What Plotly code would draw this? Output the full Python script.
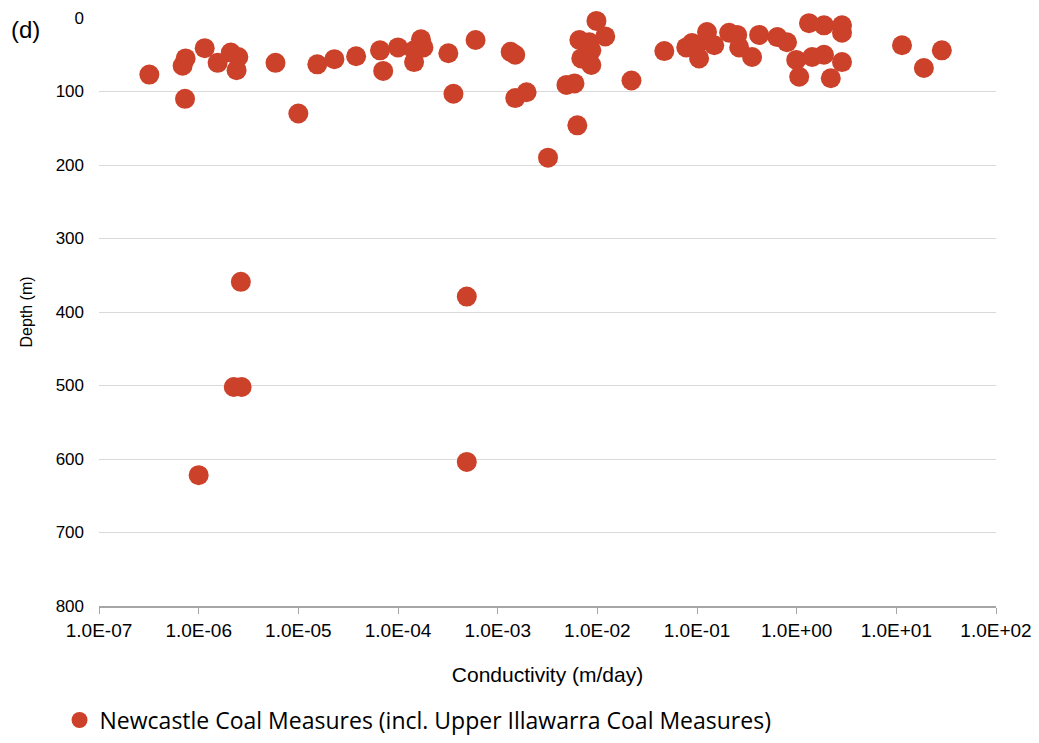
import plotly.graph_objects as go

# Conductivity (m/day) and depth (m)
conductivity = [
    3.2e-7, 6.9e-7, 7.4e-7, 7.3e-7, 1.15e-6, 1.55e-6, 2.1e-6, 2.5e-6, 2.4e-6, 5.9e-6,
    1.0e-5, 1.55e-5, 2.3e-5, 3.8e-5, 6.6e-5, 7.1e-5, 1.0e-4, 1.45e-4, 1.45e-4, 1.7e-4,
    1.8e-4, 3.2e-4, 3.6e-4, 6.0e-4, 1.35e-3, 1.5e-3, 1.5e-3, 1.95e-3, 3.2e-3, 4.9e-3,
    5.9e-3, 6.3e-3, 6.6e-3, 6.9e-3, 8.3e-3, 8.7e-3, 8.7e-3, 9.8e-3, 1.2e-2, 2.2e-2,
    4.7e-2, 7.8e-2, 8.9e-2, 0.10, 0.126, 0.105, 0.149, 0.21, 0.253, 0.265,
    0.357, 0.42, 0.64, 0.80, 0.99, 1.06, 1.33, 1.43, 1.88, 1.88,
    2.2, 2.85, 2.85, 2.85, 11.4, 18.9, 28.6,
    2.65e-6, 2.25e-6, 2.7e-6, 1.0e-6, 4.9e-4, 4.9e-4,
]
depth = [
    77, 65, 55, 110, 41, 61, 47, 53, 71, 61,
    130, 63, 56, 52, 44, 72, 40, 44, 60, 29,
    40, 48, 103, 30, 46, 50, 109, 101, 190, 91,
    89, 146, 30, 55, 33, 44, 64, 4, 25, 85,
    45, 40, 34, 37, 19, 55, 37, 20, 23, 40,
    53, 23, 26, 33, 57, 80, 7, 53, 10, 50,
    82, 10, 20, 60, 37, 68, 44,
    359, 502, 502, 622, 379, 604,
]

x_tick_vals = [1e-7, 1e-6, 1e-5, 1e-4, 1e-3, 1e-2, 1e-1, 1e0, 1e1, 1e2]
x_tick_text = ["1.0E-07", "1.0E-06", "1.0E-05", "1.0E-04", "1.0E-03",
               "1.0E-02", "1.0E-01", "1.0E+00", "1.0E+01", "1.0E+02"]
y_tick_vals = [0, 100, 200, 300, 400, 500, 600, 700, 800]

series_name = "Newcastle Coal Measures (incl. Upper Illawarra Coal Measures)"
color = "#CB4129"

fig = go.Figure()
fig.add_trace(go.Scatter(
    x=conductivity, y=depth, mode="markers", name=series_name,
    marker=dict(size=20, color=color, line=dict(width=0)),
    showlegend=True, cliponaxis=False,
))

fig.update_layout(
    width=1031, height=727,
    margin=dict(l=91, r=43, t=10, b=129, autoexpand=False),
    paper_bgcolor="white", plot_bgcolor="white",
    font=dict(family="Liberation Sans, Arial", color="#000000"),
    showlegend=True,
    legend=dict(
        orientation="h", x=-0.044, xanchor="left", y=-0.194, yanchor="middle",
        font=dict(family="Open Sans", size=23, color="#000000"),
        itemsizing="trace", itemwidth=30,
    ),
    xaxis=dict(
        type="log", range=[-7, 2], automargin=False,
        tickvals=x_tick_vals, ticktext=x_tick_text,
        tickfont=dict(size=19),
        showgrid=False, zeroline=False,
        showline=True, linecolor="#a6a6a6", linewidth=1.5,
        ticks="outside", ticklen=6, tickcolor="#a6a6a6",
        title=dict(text="Conductivity (m/day)", font=dict(size=21), standoff=28),
    ),
    yaxis=dict(
        range=[800, 0], tickvals=y_tick_vals, automargin=False,
        tickfont=dict(size=17),
        showgrid=True, gridcolor="#d9d9d9", gridwidth=1,
        zeroline=False, showline=False, ticks="", ticklabelstandoff=14,
        title=dict(text="Depth (m)", font=dict(size=16), standoff=19),
    ),
    annotations=[dict(
        text="(d)", xref="paper", yref="paper", x=-0.1, y=0.98,
        xanchor="left", yanchor="middle", showarrow=False,
        font=dict(family="Liberation Sans, Arial", size=24),
    )],
)

fig.write_html("out.html")
